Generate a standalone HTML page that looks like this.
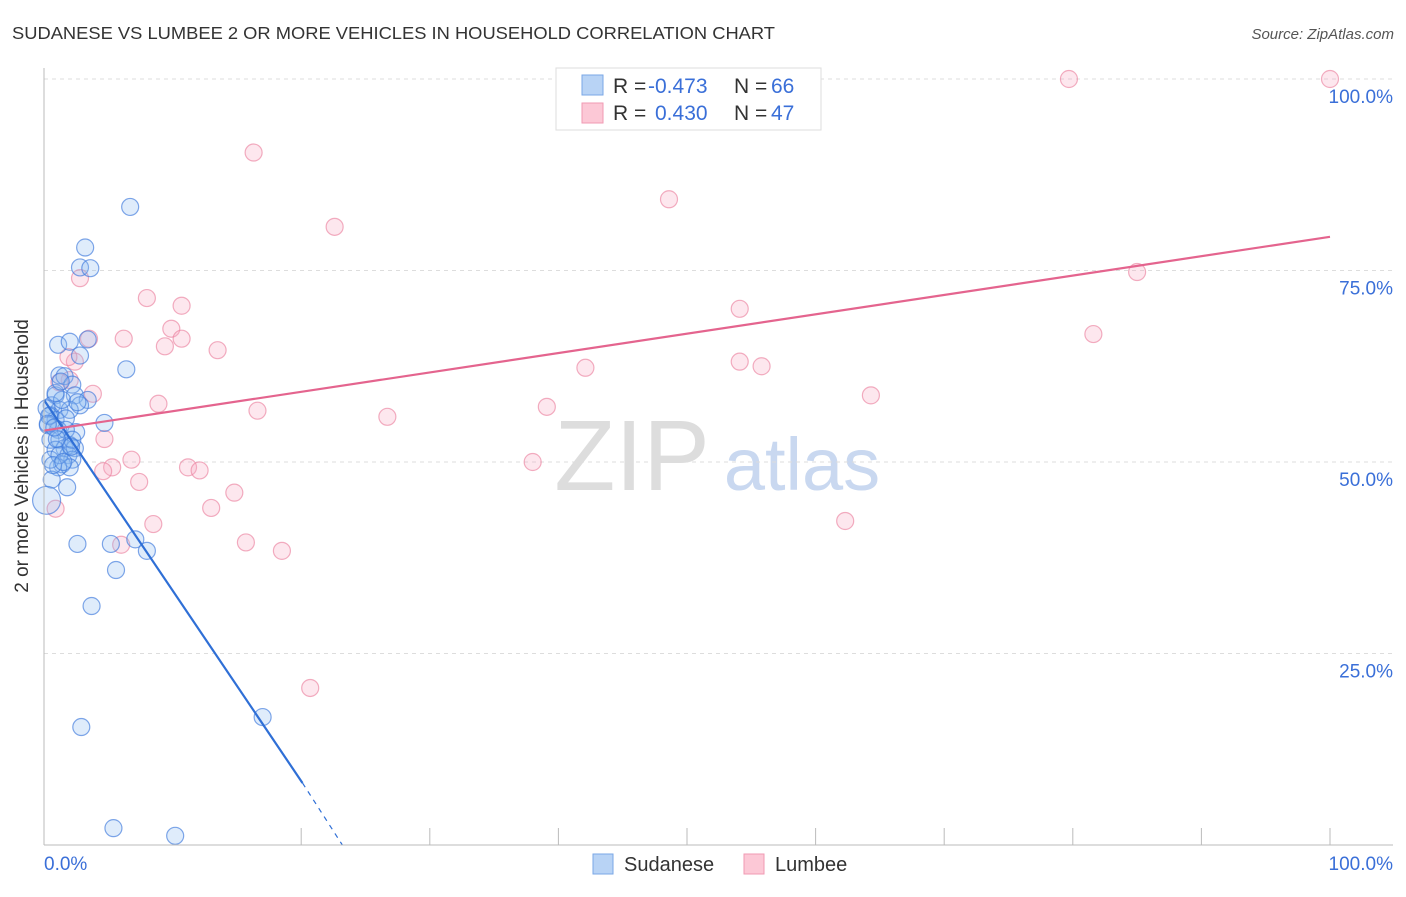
<!DOCTYPE html>
<html><head><meta charset="utf-8"><style>
body{margin:0;background:#fff;font-family:"Liberation Sans",sans-serif;}
svg text{font-family:"Liberation Sans",sans-serif;}
</style></head><body>
<svg width="1406" height="892" id="chart">
<text x="12" y="39" font-size="17.5" fill="#333" textLength="763" lengthAdjust="spacingAndGlyphs">SUDANESE VS LUMBEE 2 OR MORE VEHICLES IN HOUSEHOLD CORRELATION CHART</text>
<text x="1394" y="39" font-size="15" fill="#555" text-anchor="end" font-style="italic">Source: ZipAtlas.com</text>
<text x="632" y="490" font-size="100" fill="#ddd" text-anchor="middle" font-family="Liberation Serif">ZIP</text>
<text x="802" y="490" font-size="74" fill="#c9d8f0" text-anchor="middle">atlas</text>
<g id="grid"></g><g id="pts"></g><g id="lines"></g>
<line x1="44" y1="68" x2="44" y2="845" stroke="#bbb"/>
<line x1="44" y1="845" x2="1393" y2="845" stroke="#bbb"/>
<text x="28" y="456" font-size="19" fill="#333" text-anchor="middle" transform="rotate(-90 28 456)">2 or more Vehicles in Household</text>
<text x="44" y="870" font-size="19" fill="#3a6fd8">0.0%</text>
<text x="1393" y="870" font-size="19" fill="#3a6fd8" text-anchor="end">100.0%</text>
<g>
<rect x="556" y="68" width="265" height="62" fill="#fff" stroke="#ddd"/>
<rect x="582" y="75" width="21" height="20" fill="#b8d3f5" stroke="#7aa7e6"/>
<rect x="582" y="103" width="21" height="20" fill="#fcc8d6" stroke="#f09ab3"/>
<text x="613" y="93" font-size="21" fill="#333">R = <tspan fill="#3a6fd8" x="648">-0.473</tspan><tspan x="734">N = </tspan><tspan fill="#3a6fd8" x="771">66</tspan></text>
<text x="613" y="120" font-size="21" fill="#333">R = <tspan fill="#3a6fd8" x="655">0.430</tspan><tspan x="734">N = </tspan><tspan fill="#3a6fd8" x="771">47</tspan></text>
</g>
<g>
<rect x="593" y="854" width="20" height="20" fill="#b8d3f5" stroke="#7aa7e6"/>
<text x="624" y="871" font-size="20" fill="#333">Sudanese</text>
<rect x="744" y="854" width="20" height="20" fill="#fcc8d6" stroke="#f09ab3"/>
<text x="775" y="871" font-size="20" fill="#333">Lumbee</text>
</g>
</svg>
<script>
const yTicks=[25,50,75,100];
const yTickLabels=["25.0%","50.0%","75.0%","100.0%"];
const xTickMarks=[20,30,40,50,60,70,80,90,100];
const sudX=[6.7,3.2,2.8,3.6,6.4,1.1,2.0,3.4,2.8,1.2,1.6,2.2,0.9,2.4,3.4,2.8,0.6,1.2,2.0,0.5,0.9,1.7,4.7,0.3,1.1,2.5,0.5,1.2,2.0,1.6,2.4,0.9,1.9,2.2,1.4,2.0,1.1,0.6,1.8,0.2,2.6,5.2,7.1,8.0,5.6,3.7,2.9,17.0,5.4,10.2,0.5,1.4,0.9,1.7,0.2,2.2,1.2,0.7,0.4,1.0,2.1,0.3,1.5,2.6,0.8,1.3];
const sudY=[83.3,78.0,75.4,75.3,62.1,65.3,65.7,66.0,63.9,61.3,61.2,60.1,58.7,58.7,58.1,57.4,57.4,56.8,56.8,56.1,55.5,55.7,55.1,54.8,54.2,53.9,52.9,52.9,52.2,51.8,51.8,51.6,50.9,50.3,49.7,49.3,49.3,47.7,46.7,45.0,39.3,39.3,39.9,38.4,35.9,31.2,15.4,16.7,2.2,1.2,50.3,58.1,59.0,54.2,57.0,52.9,50.9,49.6,56.0,53.0,52.0,55.0,50.0,57.8,54.5,60.5];
const lumX=[79.7,100,16.3,22.6,48.6,85,2.8,8.0,10.7,54.1,81.6,3.5,6.2,9.9,9.4,10.7,13.5,54.1,55.8,42.1,2.4,2.0,1.2,3.8,8.9,16.6,26.7,39.1,64.3,4.7,6.8,5.3,11.2,12.1,4.6,7.4,14.8,13.0,8.5,62.3,6.0,15.7,18.5,20.7,38.0,0.9,1.9];
const lumY=[100,100,90.4,80.7,84.3,74.8,74.0,71.4,70.4,70.0,66.7,66.1,66.1,67.4,65.1,66.1,64.6,63.1,62.5,62.3,63.1,60.7,60.4,58.9,57.6,56.7,55.9,57.2,58.7,53.0,50.3,49.3,49.3,48.9,48.8,47.4,46.0,44.0,41.9,42.3,39.2,39.5,38.4,20.5,50.0,43.9,63.7];
const sudLine=[[0,58.1],[20.1,8.1]],sudDash=[[20.1,8.1],[23.2,0]];
const lumLine=[[0,54.1],[100,79.4]];
const X=v=>44+v*12.86, Y=v=>845-v*7.66;
const NS="http://www.w3.org/2000/svg";
function mk(t,a,p){const e=document.createElementNS(NS,t);for(const k in a)e.setAttribute(k,a[k]);p.appendChild(e);return e;}
const grid=document.getElementById('grid'),pts=document.getElementById('pts'),lines=document.getElementById('lines');
yTicks.forEach((t,i)=>{
 const l=mk('line',{x1:44,x2:1393,y1:Y(t),y2:Y(t),stroke:'#ddd','stroke-dasharray':'4,4'},grid);
 
 
 const tx=mk('text',{x:1393,y:Y(t)+24,'font-size':19,fill:'#3a6fd8','text-anchor':'end'},grid);
 tx.textContent=yTickLabels[i];
 
 
});
xTickMarks.forEach(t=>{
 const l=mk('line',{x1:X(t),x2:X(t),y1:828,y2:845,stroke:'#bbb'},grid);
 
 
});
lumX.forEach((x,i)=>{
 const c=mk('circle',{cx:X(x),cy:Y(lumY[i]),r:8.5,fill:'rgba(248,170,195,0.28)',stroke:'rgba(235,130,160,0.65)','stroke-width':1.2},pts);
 
 
});
sudX.forEach((x,i)=>{
 const c=mk('circle',{cx:X(x),cy:Y(sudY[i]),r:i==39?14:8.5,fill:'rgba(140,185,240,0.28)',stroke:'rgba(60,120,220,0.65)','stroke-width':1.2},pts);
 
 
});
let l=mk('line',{x1:X(sudLine[0][0]),y1:Y(sudLine[0][1]),x2:X(sudLine[1][0]),y2:Y(sudLine[1][1]),stroke:'#2f6fd6','stroke-width':2.2},lines);


l=mk('line',{x1:X(sudDash[0][0]),y1:Y(sudDash[0][1]),x2:X(sudDash[1][0]),y2:Y(sudDash[1][1]),stroke:'#2f6fd6','stroke-width':1.2,'stroke-dasharray':'5,5'},lines);


l=mk('line',{x1:X(lumLine[0][0]),y1:Y(lumLine[0][1]),x2:X(lumLine[1][0]),y2:Y(lumLine[1][1]),stroke:'#e4648e','stroke-width':2.2},lines);


</script>
</body></html>
